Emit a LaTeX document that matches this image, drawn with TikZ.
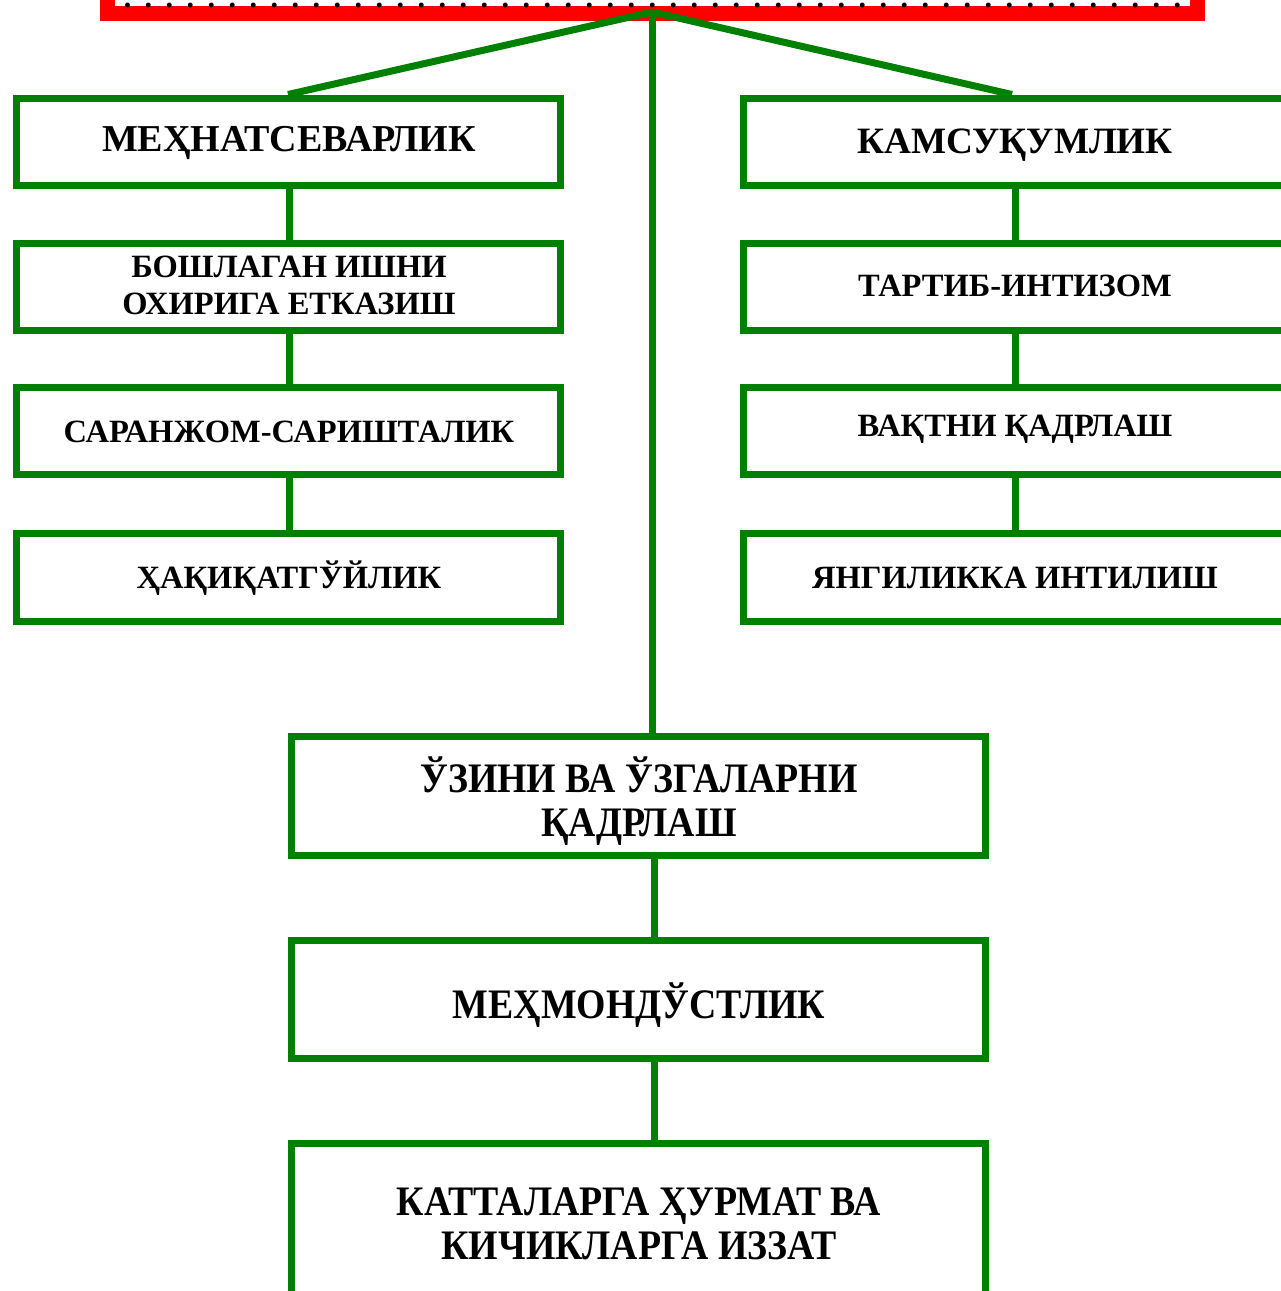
\documentclass[tikz,border=0pt]{standalone}
\usepackage{fontspec}
\setmainfont{Liberation Serif}
\newfontfamily\condfont[FakeStretch=0.9]{Liberation Serif}
\begin{document}
\begin{tikzpicture}[x=1pt,y=-1pt,
  gbox/.style={draw=boxgreen,line width=7pt,fill=white,rectangle,inner sep=0pt,align=center},
  ltext/.style={font=\bfseries\fontsize{32.5}{37}\selectfont,align=center,inner sep=0pt},
  btext/.style={font=\bfseries\fontsize{38}{38}\selectfont,align=center,inner sep=0pt},
  ctext/.style={font=\condfont\bfseries\fontsize{42}{44}\selectfont,align=center,inner sep=0pt},
  conn/.style={draw=boxgreen,line width=7pt}]
\definecolor{boxgreen}{RGB}{0,128,0}
\definecolor{topred}{RGB}{255,0,0}
\useasboundingbox (0,0) rectangle (1281,1291);
% top red box (cut off)
\node[fill=topred,minimum width=1105pt,minimum height=81pt,inner sep=0pt] (title) at (652.5,-19.5) {};
\node[fill=white,minimum width=1075pt,minimum height=66pt,inner sep=0pt] (titlein) at (652.5,-27) {};
\node[anchor=base,font=\bfseries\fontsize{30}{30}\selectfont,inner sep=0pt] (dots) at (652.5,7) {\hbox to 1071pt{\leaders\hbox to 21pt{\hss.\hss}\hfill}};
\coordinate (top) at (652,12);
% left column
\node[gbox,minimum width=544pt,minimum height=87pt] (l1) at (288,141.5) {};
\node[btext] (l1t) at (289,143) {МЕҲНАТСЕВАРЛИК};
\node[gbox,minimum width=544pt,minimum height=87pt] (l2) at (288,286.5) {};
\node[ltext] (l2t) at (289,285) {БОШЛАГАН ИШНИ\\ОХИРИГА ЕТКАЗИШ};
\node[gbox,minimum width=544pt,minimum height=87pt] (l3) at (288,430.5) {};
\node[ltext] (l3t) at (289,432) {САРАНЖОМ-САРИШТАЛИК};
\node[gbox,minimum width=544pt,minimum height=88pt] (l4) at (288,577) {};
\node[ltext] (l4t) at (289,578) {ҲАҚИҚАТГЎЙЛИК};
% right column
\node[gbox,minimum width=547pt,minimum height=87pt] (r1) at (1016.5,141.5) {};
\node[font=\bfseries\fontsize{37.2}{37}\selectfont,inner sep=0pt] (r1t) at (1015,145) {КАМСУҚУМЛИК};
\node[gbox,minimum width=547pt,minimum height=87pt] (r2) at (1016.5,286.5) {};
\node[ltext] (r2t) at (1015,286) {ТАРТИБ-ИНТИЗОМ};
\node[gbox,minimum width=547pt,minimum height=87pt] (r3) at (1016.5,430.5) {};
\node[ltext] (r3t) at (1015,429) {ВАҚТНИ ҚАДРЛАШ};
\node[gbox,minimum width=547pt,minimum height=88pt] (r4) at (1016.5,577) {};
\node[ltext] (r4t) at (1015,578) {ЯНГИЛИККА ИНТИЛИШ};
% centre column
\node[gbox,minimum width=694pt,minimum height=119pt] (c1) at (638,795.5) {};
\node[ctext] (c1t) at (639,801) {ЎЗИНИ ВА ЎЗГАЛАРНИ\\ҚАДРЛАШ};
\node[gbox,minimum width=694pt,minimum height=118pt] (c2) at (638,999) {};
\node[ctext] (c2t) at (639,1005) {МЕҲМОНДЎСТЛИК};
\node[gbox,minimum width=694pt,minimum height=158pt] (c3) at (638,1222) {};
\node[ctext] (c3t) at (639,1224) {КАТТАЛАРГА ҲУРМАТ ВА\\КИЧИКЛАРГА ИЗЗАТ};
% connectors
\draw[conn] (top) -- (l1.north);
\draw[conn] (top) -- ([xshift=-4.5pt]r1.north);
\draw[conn] (top) -- ([xshift=14pt]c1.north);
\draw[conn] ([xshift=1pt]l1.south) -- ([xshift=1pt]l2.north);
\draw[conn] ([xshift=1pt]l2.south) -- ([xshift=1pt]l3.north);
\draw[conn] ([xshift=1pt]l3.south) -- ([xshift=1pt]l4.north);
\draw[conn] ([xshift=-1pt]r1.south) -- ([xshift=-1pt]r2.north);
\draw[conn] ([xshift=-1pt]r2.south) -- ([xshift=-1pt]r3.north);
\draw[conn] ([xshift=-1pt]r3.south) -- ([xshift=-1pt]r4.north);
\draw[conn] ([xshift=16pt]c1.south) -- ([xshift=16pt]c2.north);
\draw[conn] ([xshift=16pt]c2.south) -- ([xshift=16pt]c3.north);
\end{tikzpicture}
\end{document}
